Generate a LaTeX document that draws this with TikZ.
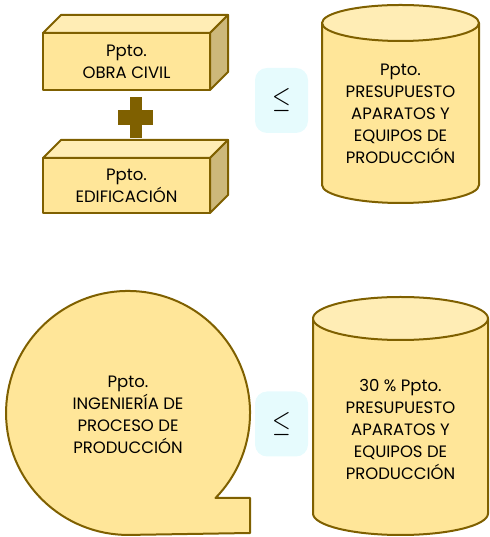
\documentclass[tikz,border=0pt]{standalone}
\usepackage{fontspec}
\setmainfont{Poppins}
\usepackage{tikz}
\usetikzlibrary{calc}
\usetikzlibrary{positioning}
\definecolor{gold}{HTML}{FFE699}
\definecolor{goldtop}{HTML}{FFEDB5}
\definecolor{goldside}{HTML}{CDB87A}
\definecolor{goldline}{HTML}{7F6000}
\definecolor{leqbg}{HTML}{E6FBFD}
\def\cube(#1,#2,#3,#4){ \draw[goldshape] (#1,#2) rectangle (#3,#4);
  \draw[goldshape,fill=goldtop] (#1,#4) -- ++(18,18) -- ($(#3,#4)+(18,18)$) -- (#3,#4) -- cycle;
  \draw[goldshape,fill=goldside] (#3,#4) -- ++(18,18) -- ($(#3,#2)+(18,18)$) -- (#3,#2) -- cycle }
\def\cylinder(#1,#2,#3,#4,#5){ \draw[goldshape] (#1-#3,#5) -- (#1-#3,#4) arc (180:360:#3 and #2) -- (#1+#3,#5);
  \draw[goldshape,fill=goldtop] (#1,#5) ellipse (#3 and #2) }
\def\bigleq{\scalebox{2.4}[3]{$\leq$}}
\tikzstyle{goldshape} = [draw=goldline, fill=gold, line width=2pt, line join=round]
\tikzstyle{txt} = [align=center, font=\fontsize{16.5}{22}\selectfont, inner sep=0pt]
\tikzstyle{leq} = [fill=leqbg, rounded corners=12pt, minimum width=53pt, minimum height=65pt]

\begin{document}
\begin{tikzpicture}[x=1pt,y=1pt]
                        \useasboundingbox (0,0) rectangle (489,537);

                        \cube(43,447,210,504);
                        \cube(43,324,210,379);
                        \fill[goldline] (130,399) rectangle (142,440);
                        \fill[goldline] (118,412) rectangle (153,427);

                        \cylinder(400.5,18,78.5,352,514);
                        \cylinder(400.5,21.5,87.5,23.5,218.5);

                        \draw[goldshape] (250,39) -- (215.5,39) arc (-44.2:270:122) -- (250,4) -- cycle;

                        \node[txt](civil) at (126.5,475.5) {Ppto.\\OBRA CIVIL};
                        \node[txt](edif) at (126.5,351.5) {Ppto.\\EDIFICACIÓN};
                        \node[txt](equipos) at (400.5,423) {Ppto.\\PRESUPUESTO\\APARATOS Y\\EQUIPOS DE\\PRODUCCIÓN};
                        \node[txt](ing) at (128,122) {Ppto.\\INGENIERÍA DE\\PROCESO DE\\PRODUCCIÓN};
                        \node[txt](equipos30) at (400.5,108) {30 \% Ppto.\\PRESUPUESTO\\APARATOS Y\\EQUIPOS DE\\PRODUCCIÓN};

                        \node[leq](leqtop) at (281.5,436.5) {\bigleq};
                        \node[leq](leqbot) at (281.5,113) {\bigleq};
                    \end{tikzpicture}
\end{document}
